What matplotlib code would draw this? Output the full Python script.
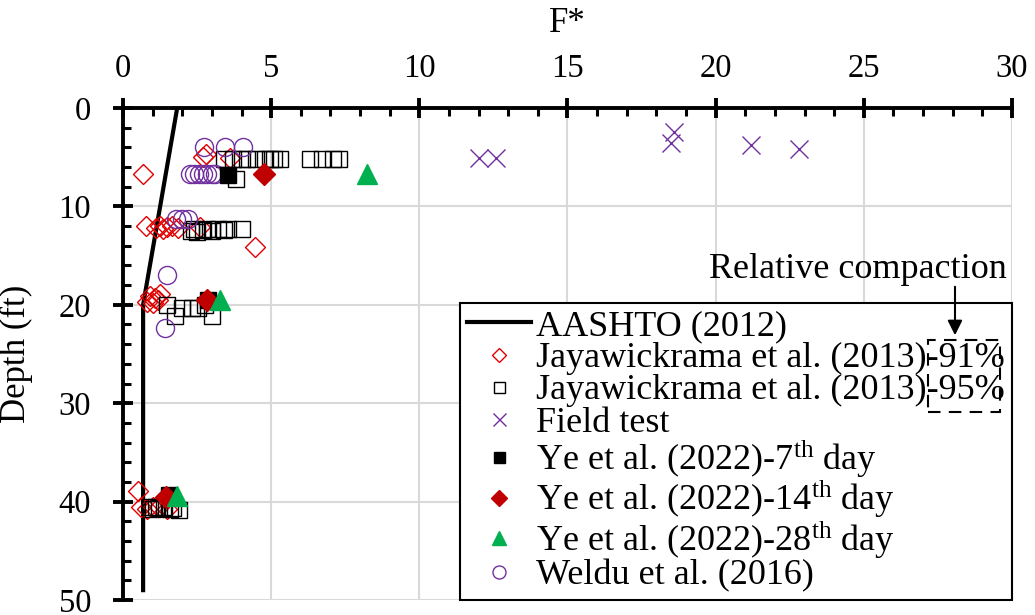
import numpy as np
import matplotlib.pyplot as plt
from matplotlib.patches import Rectangle

plt.rcParams['font.family'] = ['Liberation Serif', 'DejaVu Serif']
plt.rcParams['mathtext.fontset'] = 'custom'
plt.rcParams['mathtext.rm'] = 'Liberation Serif'
plt.rcParams['mathtext.it'] = 'Liberation Serif:italic'

# AASHTO (2012) design line
aashto_f = [1.83, 0.68, 0.68]
aashto_z = [0.0, 20.0, 49.0]

# Jayawickrama et al. (2013), 91% relative compaction
jaya91_f = [2.7, 2.8, 3.6, 0.69,
            0.78, 1.1, 1.25, 1.35, 1.5, 1.65, 1.85, 2.6,
            4.45,
            0.8, 0.91, 1.0, 1.08, 1.18, 1.25,
            0.52, 0.6, 0.8, 1.0, 1.2, 1.47]
jaya91_z = [5.0, 4.7, 5.1, 6.7,
            12.0, 12.2, 12.0, 12.3, 12.1, 12.0, 12.2, 12.1,
            14.1,
            19.7, 19.1, 19.8, 19.3, 19.5, 18.9,
            38.9, 40.6, 40.8, 40.5, 40.6, 40.8]

# Jayawickrama et al. (2013), 95% relative compaction
jaya95_f = [3.4, 3.7, 4.0, 4.2, 4.5, 4.8, 4.95, 5.1, 5.3, 6.3, 6.7, 7.1, 7.3,
            3.83,
            2.3, 2.4, 2.5, 2.7, 2.85, 3.0, 3.2, 3.4, 3.55, 4.0,
            1.47, 1.75, 1.98, 2.32, 2.54, 2.77, 2.99,
            0.9, 1.0, 1.1, 1.2, 1.4, 1.6, 1.7, 1.9]
jaya95_z = [5.2, 5.2, 5.2, 5.2, 5.2, 5.2, 5.2, 5.2, 5.2, 5.2, 5.2, 5.2, 5.2,
            7.2,
            12.5, 12.3, 12.6, 12.4, 12.3, 12.5, 12.3, 12.4, 12.3, 12.3,
            20.0, 21.1, 20.3, 20.3, 20.3, 20.0, 21.1,
            40.6, 40.8, 40.5, 40.7, 40.6, 40.8, 40.7, 40.9]

# Field test
field_f = [12.0, 12.6, 18.6, 18.5, 21.2, 22.8]
field_z = [5.1, 5.1, 2.4, 3.6, 3.8, 4.2]

# Ye et al. (2022)
ye7_f = [3.55, 2.88, 1.55]
ye7_z = [6.8, 19.5, 39.3]
ye14_f = [4.77, 2.85, 1.45]
ye14_z = [6.75, 19.5, 39.5]
ye28_f = [8.22, 3.27, 1.81]
ye28_z = [6.75, 19.5, 39.4]

# Weldu et al. (2016)
weldu_f = [2.73, 3.45, 4.05,
           2.25, 2.4, 2.55, 2.7, 2.85, 3.0, 3.1,
           1.8, 2.0, 2.2,
           1.47, 1.42]
weldu_z = [4.0, 4.0, 4.0,
           6.75, 6.75, 6.75, 6.75, 6.75, 6.75, 6.75,
           11.3, 11.3, 11.3,
           17.0, 22.4]

red_open = '#E00000'
red_fill = '#C00000'
green = '#00B050'
purple = '#7030A0'

fig = plt.figure(figsize=(10.35, 6.15), dpi=100)
ax = fig.add_axes([0.1188, 0.0244, 0.8590, 0.8000])

ax.plot(aashto_f, aashto_z, color='black', lw=3, label='AASHTO (2012)', zorder=3)
ax.plot(jaya91_f, jaya91_z, ls='none', marker='D', ms=10, mfc='none', mec=red_open,
        mew=1.0, label='Jayawickrama et al. (2013)-91%', zorder=4)
ax.plot(jaya95_f, jaya95_z, ls='none', marker='s', ms=11, mfc='none', mec='black',
        mew=1.0, label='Jayawickrama et al. (2013)-95%', zorder=4)
ax.plot(field_f, field_z, ls='none', marker='x', ms=13, color=purple, mew=1.0,
        label='Field test', zorder=4)
ax.plot(ye7_f, ye7_z, ls='none', marker='s', ms=11, color='black',
        label=r'Ye et al. (2022)-7$^{\mathrm{th}}$ day', zorder=5)
ax.plot(ye14_f, ye14_z, ls='none', marker='D', ms=11, color=red_fill,
        label=r'Ye et al. (2022)-14$^{\mathrm{th}}$ day', zorder=6)
ax.plot(ye28_f, ye28_z, ls='none', marker='^', ms=14, color=green,
        label=r'Ye et al. (2022)-28$^{\mathrm{th}}$ day', zorder=6)
ax.plot(weldu_f, weldu_z, ls='none', marker='o', ms=13, mfc='none', mec=purple,
        mew=1.0, label='Weldu et al. (2016)', zorder=4)

ax.set_xlim(0, 30)
ax.set_ylim(50, 0)
ax.xaxis.tick_top()
ax.xaxis.set_label_position('top')
ax.set_xticks(np.arange(0, 31, 5))
ax.set_yticks(np.arange(0, 51, 10))
ax.set_xticks(np.arange(0, 31, 1), minor=True)
ax.set_yticks(np.arange(0, 51, 2), minor=True)
ax.grid(True, which='major', color='#D9D9D9', lw=1.5, zorder=0)
ax.set_axisbelow(True)

for side in ['bottom', 'right']:
    ax.spines[side].set_visible(False)
for side in ['top', 'left']:
    ax.spines[side].set_linewidth(2.8)

ax.tick_params(which='major', direction='inout', length=14, width=2.8, labelsize=23.5)
ax.tick_params(axis='x', which='major', pad=10)
ax.tick_params(axis='y', which='major', pad=16)
ax.tick_params(which='minor', direction='in', length=6, width=2.2)
ax.tick_params(axis='x', which='both', top=True, bottom=False)
ax.tick_params(axis='y', which='both', left=True, right=False)

ax.set_xlabel('F*', fontsize=25, labelpad=16)
ax.set_ylabel('Depth (ft)', fontsize=25, labelpad=18)

leg = ax.legend(loc='lower right', bbox_to_anchor=(1.0, 0.0), borderaxespad=0,
                fontsize=26, frameon=True, fancybox=False, edgecolor='black',
                framealpha=1, labelspacing=-0.03, handlelength=1.75,
                handletextpad=0.15, markerscale=0.72, borderpad=0.2)
leg.get_frame().set_linewidth(1.5)

# relative compaction note, drawn on the figure above the legend
fig.text(0.973, 0.535, 'Relative compaction', ha='right', va='bottom', fontsize=26)
arrow = plt.annotate('', xy=(955 / 1035, 1 - 338 / 615), xytext=(955 / 1035, 1 - 284 / 615),
                     xycoords='figure fraction', textcoords='figure fraction',
                     arrowprops=dict(arrowstyle='-|>', color='black', lw=1.5,
                                     mutation_scale=22))
arrow.set_zorder(20)
fig.patches.append(Rectangle((928 / 1035, 1 - 412 / 615), 72 / 1035, 72 / 615,
                             transform=fig.transFigure, fill=False, ec='black',
                             lw=1.5, ls=(0, (6, 4)), zorder=10))

fig.savefig('out.png', dpi=100)
